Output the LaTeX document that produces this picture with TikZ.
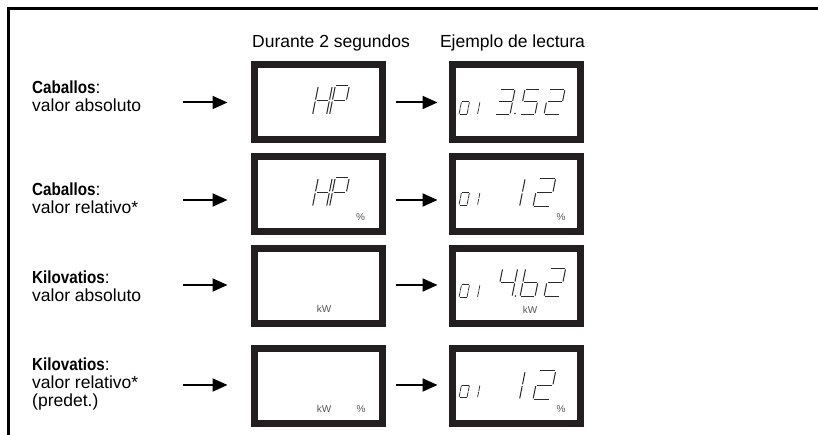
\documentclass[tikz,border=0pt]{standalone}
\usepackage{fontspec}
\setmainfont{Liberation Sans}
\newfontfamily\headfont[FakeStretch=0.87]{Liberation Sans Bold}
\usetikzlibrary{arrows.meta}

\definecolor{lcdframe}{HTML}{231F20}
\definecolor{segcolor}{HTML}{2B2B2B}
\definecolor{unitcolor}{HTML}{555555}

\tikzset{
  lcd/.style={draw=lcdframe, line width=7pt, minimum width=128pt, minimum height=75pt, inner sep=0pt},
  seg/.style={draw=segcolor, line width=1pt},
  smallseg/.style={draw=segcolor, line width=0.75pt},
  arr/.style={line width=2pt, -{Triangle[length=15pt,width=13pt]}},
  unit/.style={font=\fontsize{10}{10}\selectfont, text=unitcolor, inner sep=0pt},
  lab/.style={align=left, anchor=base west, inner sep=0pt}
}

% one seven segment character: x, bottom, width, height, style, segments
\newcommand\lcdchar[6]{%
  \begin{scope}[shift={(#1,#2)}, xslant=0.2]
    \def\w{#3}\def\h{#4}
    \foreach \s in {#6} {%
      \if a\s \draw[#5] (0.04*\h,\h) -- (\w-0.04*\h,\h); \fi
      \if b\s \draw[#5] (\w,\h-0.04*\h) -- (\w,0.53*\h); \fi
      \if c\s \draw[#5] (\w,0.47*\h) -- (\w,0.04*\h); \fi
      \if d\s \draw[#5] (0.04*\h,0) -- (\w-0.04*\h,0); \fi
      \if e\s \draw[#5] (0,0.04*\h) -- (0,0.47*\h); \fi
      \if f\s \draw[#5] (0,0.53*\h) -- (0,\h-0.04*\h); \fi
      \if g\s \draw[#5] (0.04*\h,0.5*\h) -- (\w-0.04*\h,0.5*\h); \fi
    }
  \end{scope}}

\begin{document}
\begin{tikzpicture}[x=1pt, y=1pt, font=\fontsize{17.5}{18}\selectfont]
  \useasboundingbox (0,0) rectangle (818,435);
  \draw[line width=2.7pt] (8.5,0) -- (8.5,426.5) -- (818,426.5);

  % column heads
  \node[anchor=base] (head1) at (331,387) {Durante 2 segundos};
  \node[anchor=base] (head2) at (512.5,387) {Ejemplo de lectura};

  % labels (base = last line)
  \node[lab] (lab1) at (32,323) {{\headfont Caballos}:\\valor absoluto};
  \node[lab] (lab2) at (32,221) {{\headfont Caballos}:\\valor relativo*};
  \node[lab] (lab3) at (32,133) {{\headfont Kilovatios}:\\valor absoluto};
  \node[lab] (lab4) at (32,28) {{\headfont Kilovatios}:\\valor relativo*\\(predet.)};

  % displays
  \foreach \r/\y in {1/333,2/241,3/149,4/48.5} {
    \node[lcd] (d\r1) at (318,\y) {};
    \node[lcd] (d\r2) at (516,\y) {};
  }

  % arrows
  \foreach \r/\y in {1/332.5,2/235,3/150,4/50} {
    \coordinate (in\r) at (183,\y);
    \draw[arr, shorten >=23pt] (in\r) -- (in\r -| d\r1.west);
    \draw[arr, shorten <=10pt, shorten >=11pt] (in\r -| d\r1.east) -- (in\r -| d\r2.west);
  }

  % units
  \node[unit] (u21) at (360.5,218) {\%};
  \node[unit] (u22) at (561,218) {\%};
  \node[unit] (u31) at (324,126) {kW};
  \node[unit] (u32) at (530,125.5) {kW};
  \node[unit] (u41) at (324,26) {kW};
  \node[unit] (u41p) at (361,26) {\%};
  \node[unit] (u42) at (561,26) {\%};

  % HP
  \foreach \y in {320,228.3} {
    \lcdchar{312.5}{\y}{14}{29}{seg}{b,c,e,f,g}
    \lcdchar{329.5}{\y}{14}{29}{seg}{a,b,e,f,g}
  }

  % 01 in every reading
  \foreach \y in {320.7,230,137.7,37.5} {
    \lcdchar{459}{\y}{8}{12.5}{smallseg}{a,b,c,d,e,f}
    \lcdchar{469.5}{\y}{8}{12.5}{smallseg}{b,c}
  }

  % 3.52
  \lcdchar{495}{320.7}{15}{25}{seg}{a,b,c,d,g}
  \fill[segcolor] (515,321.5) circle (0.8);
  \lcdchar{520}{320.7}{15}{25}{seg}{a,f,g,c,d}
  \lcdchar{544}{320.7}{16}{25}{seg}{a,b,g,e,d}

  % 12
  \foreach \y in {228.3,35.5} {
    \lcdchar{519.5}{\y}{17}{28.5}{seg}{e,f}
    \lcdchar{533}{\y}{17}{28.5}{seg}{a,b,g,e,d}
  }

  % 4.b2
  \lcdchar{497}{138.3}{15}{28.4}{seg}{f,g,b,c}
  \fill[segcolor] (515.5,139) circle (0.8);
  \lcdchar{520}{138.3}{15}{28.4}{seg}{f,e,g,c,d}
  \lcdchar{544}{138.3}{16}{28.4}{seg}{a,b,g,e,d}
\end{tikzpicture}
\end{document}
